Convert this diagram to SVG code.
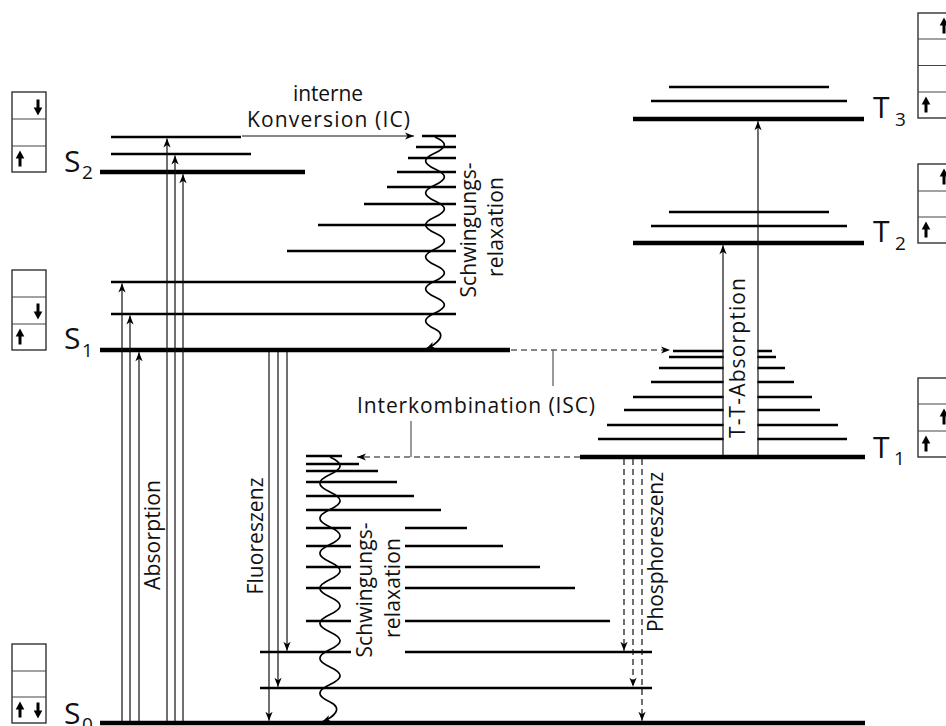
<svg xmlns="http://www.w3.org/2000/svg" width="946" height="726" viewBox="0 0 946 726">
<defs>
<style>
.lv{stroke:#000;stroke-width:2.6;fill:none}
.lm{stroke:#000;stroke-width:4.4;fill:none}
.ar{stroke:#111;stroke-width:1.2;fill:none;marker-end:url(#ah)}
.da{stroke:#111;stroke-width:1.2;fill:none;stroke-dasharray:6 4;marker-end:url(#ah)}
.wv{stroke:#000;stroke-width:1.7;fill:none;marker-end:url(#ah)}
.ln{stroke:#555;stroke-width:1.2;fill:none}
.bx{fill:#fff;stroke:#222;stroke-width:1.3}
.dv{stroke:#444;stroke-width:1.2}
.t{font-family:"Open Sans","Noto Sans",sans-serif;font-size:21px;fill:#111}
.c{text-anchor:middle}
.lb{font-family:"Open Sans","Noto Sans",sans-serif;font-size:30px;fill:#111}
.sb{font-family:"Open Sans","Noto Sans",sans-serif;font-size:19px;fill:#111}
</style>
<marker id="ah" viewBox="-10 -5 11 10" refX="0" refY="0" markerWidth="11" markerHeight="10" markerUnits="userSpaceOnUse" orient="auto"><path d="M0,0 L-9,-3.6 L-6.5,0 L-9,3.6 z" fill="#000"/></marker>
<g id="up"><line x1="0" y1="7.5" x2="0" y2="-3" stroke="#000" stroke-width="3"/><path d="M0,-8.5 L-4.3,-0.5 L4.3,-0.5 z" fill="#000"/></g>
<g id="down"><use href="#up" transform="rotate(180)"/></g>
</defs>
<rect width="946" height="726" fill="#fff"/>

<g id="S2">
<line class="lv" x1="111" y1="137" x2="241" y2="137"/>
<line class="lv" x1="111" y1="154" x2="251" y2="154"/>
<line class="lm" x1="100" y1="172" x2="305" y2="172"/>
<text class="lb" x="64" y="172">S</text><text class="sb" x="82" y="179">2</text>
<rect class="bx" x="12" y="92" width="34" height="80"/>
<line class="dv" x1="12" y1="119" x2="46" y2="119"/><line class="dv" x1="12" y1="146" x2="46" y2="146"/>
<use href="#down" x="38" y="107"/><use href="#up" x="20" y="159"/>
</g>

<g id="S1">
<line class="lv" x1="422" y1="136" x2="456" y2="136"/>
<line class="lv" x1="416" y1="147" x2="456" y2="147"/>
<line class="lv" x1="408" y1="158" x2="456" y2="158"/>
<line class="lv" x1="397" y1="172" x2="456" y2="172"/>
<line class="lv" x1="387" y1="187" x2="456" y2="187"/>
<line class="lv" x1="364" y1="204" x2="456" y2="204"/>
<line class="lv" x1="318" y1="225" x2="456" y2="225"/>
<line class="lv" x1="287" y1="251" x2="456" y2="251"/>
<line class="lv" x1="111" y1="282" x2="456" y2="282"/>
<line class="lv" x1="111" y1="314" x2="456" y2="314"/>
<line class="lm" x1="100" y1="350" x2="510" y2="350"/>
<text class="lb" x="64" y="349">S</text><text class="sb" x="82" y="357">1</text>
<rect class="bx" x="12" y="270" width="34" height="80"/>
<line class="dv" x1="12" y1="297" x2="46" y2="297"/><line class="dv" x1="12" y1="324" x2="46" y2="324"/>
<use href="#down" x="38" y="311"/><use href="#up" x="20" y="337"/>
</g>

<g id="S0">
<line class="lv" x1="306" y1="456" x2="342" y2="456"/>
<line class="lv" x1="306" y1="464" x2="359" y2="464"/>
<line class="lv" x1="306" y1="471" x2="378" y2="471"/>
<line class="lv" x1="306" y1="482" x2="397" y2="482"/>
<line class="lv" x1="306" y1="496" x2="414" y2="496"/>
<line class="lv" x1="306" y1="510" x2="441" y2="510"/>
<line class="lv" x1="306" y1="528" x2="351" y2="528"/><line class="lv" x1="405" y1="528" x2="467" y2="528"/>
<line class="lv" x1="306" y1="546" x2="351" y2="546"/><line class="lv" x1="405" y1="546" x2="503" y2="546"/>
<line class="lv" x1="306" y1="567" x2="351" y2="567"/><line class="lv" x1="405" y1="567" x2="540" y2="567"/>
<line class="lv" x1="306" y1="588" x2="351" y2="588"/><line class="lv" x1="405" y1="588" x2="575" y2="588"/>
<line class="lv" x1="306" y1="621" x2="351" y2="621"/><line class="lv" x1="405" y1="621" x2="610" y2="621"/>
<line class="lv" x1="260" y1="652" x2="351" y2="652"/><line class="lv" x1="405" y1="652" x2="652" y2="652"/>
<line class="lv" x1="260" y1="688" x2="652" y2="688"/>
<line class="lm" x1="100" y1="723" x2="865" y2="723"/>
<text class="lb" x="64" y="724">S</text><text class="sb" x="82" y="731">0</text>
<rect class="bx" x="12" y="644" width="34" height="79"/>
<line class="dv" x1="12" y1="671" x2="46" y2="671"/><line class="dv" x1="12" y1="697" x2="46" y2="697"/>
<use href="#up" x="20" y="710"/><use href="#down" x="38" y="710"/>
</g>

<g id="T3">
<line class="lv" x1="669" y1="87" x2="829" y2="87"/>
<line class="lv" x1="651" y1="101" x2="847" y2="101"/>
<line class="lm" x1="633" y1="119" x2="864" y2="119"/>
<text class="lb" x="873" y="118">T</text><text class="sb" x="895" y="126">3</text>
<rect class="bx" x="918" y="13" width="40" height="105"/>
<line class="dv" x1="918" y1="39" x2="958" y2="39"/><line class="dv" x1="918" y1="65.5" x2="958" y2="65.5"/><line class="dv" x1="918" y1="92" x2="958" y2="92"/>
<use href="#up" x="944" y="26"/><use href="#up" x="926" y="105"/>
</g>

<g id="T2">
<line class="lv" x1="669" y1="212" x2="829" y2="212"/>
<line class="lv" x1="651" y1="226" x2="847" y2="226"/>
<line class="lm" x1="633" y1="243" x2="864" y2="243"/>
<text class="lb" x="873" y="242">T</text><text class="sb" x="895" y="250">2</text>
<rect class="bx" x="918" y="164" width="40" height="79"/>
<line class="dv" x1="918" y1="191" x2="958" y2="191"/><line class="dv" x1="918" y1="217" x2="958" y2="217"/>
<use href="#up" x="944" y="177"/><use href="#up" x="926" y="230"/>
</g>

<g id="T1">
<line class="lv" x1="673" y1="351" x2="772" y2="351"/>
<line class="lv" x1="669" y1="357" x2="776" y2="357"/>
<line class="lv" x1="659" y1="368" x2="785" y2="368"/>
<line class="lv" x1="651" y1="382" x2="794" y2="382"/>
<line class="lv" x1="633" y1="397" x2="812" y2="397"/>
<line class="lv" x1="624" y1="410" x2="820" y2="410"/>
<line class="lv" x1="607" y1="425" x2="838" y2="425"/>
<line class="lv" x1="598" y1="439" x2="847" y2="439"/>
<line class="lm" x1="580" y1="457" x2="865" y2="457"/>
<text class="lb" x="873" y="458">T</text><text class="sb" x="894" y="465">1</text>
<rect class="bx" x="918" y="378" width="40" height="79"/>
<line class="dv" x1="918" y1="404" x2="958" y2="404"/><line class="dv" x1="918" y1="431" x2="958" y2="431"/>
<use href="#up" x="944" y="417"/><use href="#up" x="926" y="444"/>
</g>

<g id="connectors">
<rect x="723.6" y="345" width="33.8" height="109" fill="#fff"/>
<line class="ar" x1="122" y1="721" x2="122" y2="283.5"/>
<line class="ar" x1="130" y1="721" x2="130" y2="315.5"/>
<line class="ar" x1="139" y1="721" x2="139" y2="352.3"/>
<line class="ar" x1="167" y1="721" x2="167" y2="138.5"/>
<line class="ar" x1="175" y1="721" x2="175" y2="155.5"/>
<line class="ar" x1="183" y1="721" x2="183" y2="174.3"/>
<line class="ar" x1="287" y1="352" x2="287" y2="650.7"/>
<line class="ar" x1="278" y1="352" x2="278" y2="686.7"/>
<line class="ar" x1="269" y1="352" x2="269" y2="720.8"/>
<line class="da" x1="624" y1="459" x2="624" y2="650.7"/>
<line class="da" x1="633" y1="459" x2="633" y2="686.7"/>
<line class="da" x1="642" y1="459" x2="642" y2="720.8"/>
<line class="ar" x1="723" y1="455" x2="723" y2="245.2"/>
<line class="ar" x1="758" y1="455" x2="758" y2="121.2"/>
<line class="ar" x1="242" y1="136" x2="414" y2="136"/>
<line class="da" x1="511" y1="350" x2="670" y2="350"/>
<line class="da" x1="580" y1="457" x2="357" y2="457"/>
<line class="ln" x1="553" y1="350" x2="553" y2="386"/>
<line class="ln" x1="411" y1="421" x2="411" y2="457"/>
<path class="wv" d="M435,137 c12.5,5.8 12.5,10.2 0,16 c-12.5,5.8 -12.5,10.2 0,16 c12.5,5.8 12.5,10.2 0,16 c-12.5,5.8 -12.5,10.2 0,16 c12.5,5.8 12.5,10.2 0,16 c-12.5,5.8 -12.5,10.2 0,16 c12.5,5.8 12.5,10.2 0,16 c-12.5,5.8 -12.5,10.2 0,16 c12.5,5.8 12.5,10.2 0,16 c-12.5,5.8 -12.5,10.2 0,16 c12.5,5.8 12.5,10.2 0,16 c-12.5,5.8 -12.5,10.2 0,16 c12.5,5.8 2,15 -9,20"/>
<path class="wv" d="M330,457 c13.5,6.4 13.5,11.1 0,17.5 c-13.5,6.4 -13.5,11.1 0,17.5 c13.5,6.4 13.5,11.1 0,17.5 c-13.5,6.4 -13.5,11.1 0,17.5 c13.5,6.4 13.5,11.1 0,17.5 c-13.5,6.4 -13.5,11.1 0,17.5 c13.5,6.4 13.5,11.1 0,17.5 c-13.5,6.4 -13.5,11.1 0,17.5 c13.5,6.4 13.5,11.1 0,17.5 c-13.5,6.4 -13.5,11.1 0,17.5 c13.5,6.4 13.5,11.1 0,17.5 c-13.5,6.4 -13.5,11.1 0,17.5 c13.5,6.4 13.5,11.1 0,17.5 c-13.5,6.4 -13.5,11.1 0,17.5 c13.5,6.4 4,15 -8,20"/>
</g>

<g id="labels">
<text class="t c" x="328" y="101" textLength="70" lengthAdjust="spacing">interne</text>
<text class="t c" x="328.5" y="127" textLength="163" lengthAdjust="spacing">Konversion (IC)</text>
<text class="t c" x="476" y="413" textLength="238" lengthAdjust="spacing">Interkombination (ISC)</text>
<text class="t c" transform="translate(160,535) rotate(-90)" textLength="110" lengthAdjust="spacing">Absorption</text>
<text class="t c" transform="translate(263,536) rotate(-90)" textLength="117" lengthAdjust="spacing">Fluoreszenz</text>
<text class="t c" transform="translate(476,230) rotate(-90)" textLength="135" lengthAdjust="spacing">Schwingungs-</text>
<text class="t c" transform="translate(503,227) rotate(-90)" textLength="100" lengthAdjust="spacing">relaxation</text>
<text class="t c" transform="translate(372,590) rotate(-90)" textLength="135" lengthAdjust="spacing">Schwingungs-</text>
<text class="t c" transform="translate(400,588) rotate(-90)" textLength="100" lengthAdjust="spacing">relaxation</text>
<text class="t c" transform="translate(663,552) rotate(-90)" textLength="160" lengthAdjust="spacing">Phosphoreszenz</text>
<text class="t c" transform="translate(745,358) rotate(-90)" textLength="160" lengthAdjust="spacing">T-T-Absorption</text>
</g>
</svg>
